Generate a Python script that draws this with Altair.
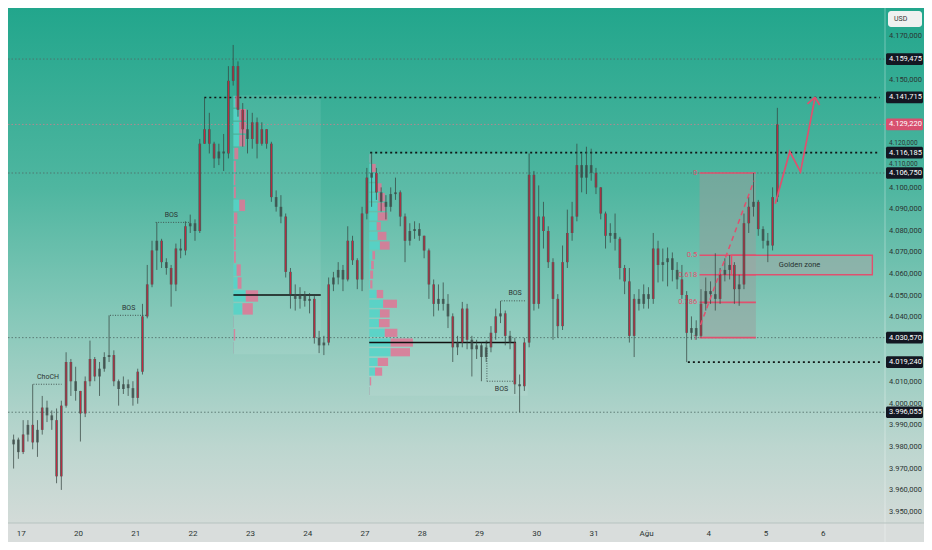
import altair as alt
import pandas as pd

# ---------------- candle data (2h bars, prices) ----------------
open0 = 3981.2
close = [3983.4, 3977.6, 3985.7, 3990.2, 3982.1, 3987.9, 3998.2, 3994.6, 3992.4, 3966.4,
         3999.1, 4019.3, 4010.4, 4005.9, 3995.5, 4010.4, 4020.7, 4012.6, 4016.2, 4021.6,
         4022.5, 4010.4, 4006.8, 4009.0, 4007.2, 4002.7, 4014.8, 4040.4, 4055.2, 4070.9,
         4075.4, 4065.5, 4062.8, 4055.2, 4071.8, 4070.9, 4082.1, 4083.5, 4079.9, 4120.3,
         4127.0, 4120.3, 4113.5, 4116.7, 4115.8, 4149.4, 4156.2, 4136.0, 4127.0, 4122.5,
         4130.2, 4120.3, 4127.0, 4120.3, 4095.6, 4091.1, 4086.6, 4061.0, 4050.7, 4048.5,
         4050.7, 4047.6, 4048.5, 4030.5, 4027.0, 4028.3, 4055.2, 4058.4, 4061.9, 4057.5,
         4075.4, 4066.4, 4057.5, 4088.0, 4104.6, 4106.8, 4097.8, 4093.4, 4091.1, 4097.0,
         4097.8, 4086.6, 4075.4, 4079.9, 4080.8, 4077.7, 4070.9, 4055.2, 4046.2, 4048.5,
         4046.2, 4040.4, 4026.1, 4028.3, 4044.0, 4029.6, 4025.2, 4027.0, 4021.6, 4026.1,
         4032.8, 4040.4, 4041.8, 4031.4, 4028.3, 4009.0, 4008.1, 4028.3, 4105.9, 4046.2,
         4086.6, 4079.9, 4065.5, 4048.5, 4035.9, 4065.5, 4079.0, 4086.6, 4110.4, 4104.6,
         4110.4, 4106.8, 4100.1, 4088.0, 4077.7, 4079.0, 4076.3, 4062.8, 4056.6, 4031.4,
         4048.5, 4046.2, 4050.7, 4048.5, 4071.8, 4064.2, 4065.5, 4067.3, 4061.9, 4057.5,
         4050.3, 4032.8, 4035.0, 4031.4, 4046.2, 4052.1, 4050.7, 4048.5, 4059.7, 4061.9,
         4064.2, 4053.0, 4055.2, 4083.5, 4091.1, 4093.4, 4080.8, 4075.4, 4073.2, 4095.6,
         4129.22]
high = [3985.7, 3984.3, 3992.4, 3992.4, 4009.0, 3992.4, 4003.6, 4001.4, 3996.9, 3997.8,
        4001.4, 4023.8, 4020.7, 4017.1, 4005.9, 4012.6, 4029.2, 4021.6, 4019.3, 4023.8,
        4040.9, 4024.7, 4011.2, 4012.6, 4011.2, 4010.4, 4016.2, 4046.2, 4064.2, 4075.4,
        4083.9, 4076.3, 4067.3, 4064.2, 4074.1, 4076.3, 4084.4, 4087.5, 4085.3, 4122.5,
        4141.715, 4134.6, 4121.2, 4120.3, 4124.8, 4156.2, 4166.0, 4158.4, 4139.1, 4136.0,
        4134.6, 4132.4, 4130.2, 4127.0, 4121.2, 4098.7, 4096.5, 4088.0, 4062.8, 4055.2,
        4053.9, 4052.1, 4051.2, 4049.8, 4033.7, 4031.4, 4058.4, 4061.0, 4065.5, 4064.2,
        4082.1, 4077.7, 4067.3, 4091.1, 4109.1, 4116.185, 4109.1, 4100.1, 4096.5, 4100.1,
        4104.6, 4098.7, 4088.0, 4083.5, 4084.4, 4083.5, 4077.7, 4071.8, 4057.5, 4055.2,
        4056.1, 4050.7, 4041.8, 4031.4, 4047.1, 4046.2, 4031.4, 4029.6, 4028.3, 4029.2,
        4035.9, 4044.0, 4047.6, 4043.1, 4033.7, 4030.5, 4013.5, 4030.5, 4115.8, 4107.7,
        4101.0, 4093.4, 4082.1, 4067.3, 4050.7, 4073.2, 4089.8, 4093.4, 4120.3, 4115.8,
        4118.9, 4118.0, 4109.1, 4100.1, 4088.9, 4083.5, 4088.0, 4077.2, 4064.2, 4062.8,
        4050.7, 4053.0, 4055.2, 4053.9, 4079.0, 4075.4, 4071.8, 4072.3, 4070.0, 4065.5,
        4064.2, 4052.1, 4040.4, 4038.6, 4053.0, 4058.4, 4056.6, 4069.6, 4062.8, 4067.3,
        4068.7, 4065.5, 4059.7, 4088.0, 4095.6, 4106.75, 4094.3, 4082.1, 4079.0, 4100.1,
        4136.9]
low = [3970.0, 3974.5, 3976.7, 3982.5, 3978.9, 3975.4, 3985.7, 3991.5, 3987.9, 3963.2,
       3960.1, 3998.2, 4003.6, 4001.4, 3982.5, 3993.8, 4008.1, 4010.4, 4003.6, 4014.8,
       4019.3, 4008.1, 3999.1, 4004.5, 4003.6, 3999.1, 4000.0, 4013.5, 4039.5, 4053.9,
       4061.9, 4062.8, 4059.7, 4044.9, 4052.1, 4067.3, 4068.7, 4079.0, 4075.4, 4079.0,
       4120.3, 4115.8, 4109.1, 4110.4, 4107.7, 4113.5, 4147.2, 4132.8, 4118.9, 4115.8,
       4118.0, 4113.5, 4119.4, 4118.0, 4093.4, 4088.9, 4083.5, 4058.4, 4044.0, 4043.1,
       4044.0, 4044.9, 4041.8, 4027.8, 4023.4, 4022.5, 4027.0, 4052.1, 4055.2, 4052.1,
       4056.6, 4064.2, 4053.0, 4052.1, 4085.3, 4091.1, 4094.3, 4088.9, 4085.3, 4088.9,
       4094.3, 4082.1, 4065.5, 4073.2, 4076.3, 4075.4, 4067.3, 4048.5, 4040.4, 4043.1,
       4043.1, 4035.0, 4019.3, 4022.5, 4026.1, 4025.2, 4012.6, 4020.7, 4010.4, 4019.3,
       4023.8, 4029.6, 4037.3, 4027.0, 4025.2, 4004.5, 3996.055, 4005.9, 4026.1, 4043.1,
       4044.0, 4071.8, 4062.8, 4029.6, 4030.5, 4034.1, 4062.8, 4075.4, 4084.4, 4097.8,
       4097.0, 4103.2, 4097.0, 4085.3, 4071.8, 4074.5, 4070.9, 4057.5, 4050.7, 4028.3,
       4021.6, 4043.1, 4044.0, 4044.0, 4046.2, 4056.1, 4056.6, 4054.3, 4056.6, 4053.0,
       4048.5, 4019.24, 4029.6, 4029.6, 4030.57, 4043.1, 4046.2, 4043.1, 4046.2, 4056.6,
       4057.5, 4046.2, 4045.3, 4053.0, 4079.0, 4086.6, 4077.7, 4071.8, 4065.5, 4070.9,
       4093.4]
N = len(close)
opens = [open0] + close[:-1]
hours = [2 * i - 3 for i in range(N)]          # trading hours since 17 Jul 00:00

# ---------------- axis ticks ----------------
day_vals = [0, 24, 48, 72, 96, 120, 144, 168, 192, 216, 240, 262, 288, 312, 336]
day_labels = ["17", "20", "21", "22", "23", "24", "27", "28", "29", "30", "31", "Ağu", "4", "5", "6"]
# price labels that are not hidden behind the price tags
price_ticks = [3950, 3960, 3970, 3980, 3990, 4000, 4010, 4040, 4050, 4060, 4070, 4080,
               4090, 4100, 4110, 4120, 4150, 4170]

# ---------------- levels ----------------
black_levels = [4141.715, 4116.185, 4019.24]
black_starts = [76.9, 146.4, 279.5]
grey_levels = [4159.475, 4106.75, 4030.57, 3996.055]
last_price = 4129.22
tag_prices = [4159.475, 4141.715, 4129.22, 4116.185, 4106.75, 4030.57, 4019.24, 3996.055]
tag_colors = ["#131722", "#131722", "#d8506f", "#131722", "#131722", "#131722", "#131722", "#131722"]

# ---------------- volume profiles ----------------
vp1_left, vp1_right, vp1_top, vp1_step = 89.1, 125.7, 4142.7, 5.99
vp1_cyan = [2, 6, 6, 6, 1, 0.5, 0.5, 0.5, 6, 0.5, 0.5, 0.5, 0.5, 3.3, 4.3, 12.7, 9.3, 0.3, 0.3, 0.3]
vp1_pink = [4, 7, 7, 6, 4, 2, 1.5, 2, 6, 3.5, 2, 2, 2, 4.3, 4.0, 12.7, 10.7, 0.3, 1.5, 0.3]
vp1_poc = 4050.3
vp2_left, vp2_right, vp2_top, vp2_step = 146.0, 212.4, 4115.8, 4.487
vp2_cyan = [0.5, 2.7, 6, 7.7, 9.3, 8.7, 8.7, 7.7, 8.7, 11, 3.3, 2, 1, 1, 7.7, 14.3, 11, 10, 16, 22, 22, 8.7, 6, 0.5, 0.3]
vp2_pink = [0.5, 4, 2.7, 5, 6.7, 8, 10, 4.3, 9, 10, 2.7, 2.7, 3, 2.3, 6.7, 14.3, 10, 11, 13, 23, 20, 10.7, 7.3, 1.5, 0.3]
vp2_poc, vp2_poc_end = 4028.3, 207.5
VOL = 0.4068  # hours per volume unit

# ---------------- fib / drawings ----------------
fib_h1, fib_h2 = 284.4, 308.0
fib_p0, fib_p1 = 4106.75, 4030.57
fib_ratios = [0, 0.5, 0.618, 0.786, 1]
fib_text = ["0", "0.5", "0.618", "0.786", "1"]
gz_h1, gz_h2 = 297.8, 356.8
trend_h = [284.8, 307.2]
trend_p = [4036.4, 4103.2]
arrow_h = [316.1, 322.2, 326.7, 332.8]
arrow_p = [4092.5, 4116.7, 4107.3, 4141.8]
wing_h = [329.6, 334.7]
wing_p = [4138.7, 4138.2]

notes_t = ["ChoCH", "BOS", "BOS", "BOS", "BOS"]
notes_h = [11.4, 45.2, 63.1, 207.1, 201.4]
notes_p = [4012.4, 4044.4, 4087.5, 4051.2, 4007.0]
bos_h1 = [5.3, 37.4, 56.5, 201.4, 195.3]
bos_h2 = [17.1, 52.5, 70.8, 211.5, 207.1]
bos_p = [4009.0, 4040.9, 4083.9, 4047.6, 4010.4]

# ---------------- chart setup ----------------
W, H = 877, 515
RP, BP = 39, 19
xs = alt.Scale(domain=[-3.25, 360], nice=False, zero=False)
ys = alt.Scale(domain=[3944.8, 4183.1], nice=False, zero=False)

xexpr = "".join(f"datum.value == {v} ? '{l}' : " for v, l in zip(day_vals, day_labels)) + "''"
xaxis = alt.Axis(values=day_vals, labelExpr=xexpr, grid=False, ticks=False, domain=False,
                 labelFontSize=8, labelColor="#2b3533", labelPadding=6, labelFont="Roboto",
                 title=None, labelFlush=False, labelOverlap=False)

def X(f):
    return alt.X(f, type="quantitative", scale=xs, axis=xaxis)

def Y(f):
    return alt.Y(f, type="quantitative", scale=ys, axis=None)

FONT = "Roboto"
TXT = "#2b3533"
PINK = "#e0506e"

one = pd.DataFrame({"a": [0]})

bg = alt.Chart(one).mark_rect(fill={
    "gradient": "linear", "x1": 0, "x2": 0, "y1": 0, "y2": 1,
    "stops": [{"offset": 0, "color": "#22a68c"}, {"offset": 0.35, "color": "#4fb6a0"},
              {"offset": 0.6, "color": "#86c8b9"}, {"offset": 0.85, "color": "#bcd6cf"},
              {"offset": 1, "color": "#d3dbd8"}]}).encode(
    x=alt.value(0), x2=alt.value(W + RP), y=alt.value(0), y2=alt.value(H))

def fmt(v):
    s = f"{v:,.3f}"
    return s.replace(",", "#").replace(".", ",").replace("#", ".")

# y labels as text on the right; the two squeezed between tags are nudged
ydf = pd.DataFrame({"p": price_ticks, "t": [fmt(v) for v in price_ticks]})
ylab = alt.Chart(ydf).transform_filter("datum.p != 4110 && datum.p != 4120").mark_text(
    align="left", baseline="middle", fontSize=7.5, font=FONT, color=TXT).encode(
    x=alt.value(W + 4), y=Y("p"), text="t:N")
ylab_sq = alt.Chart(ydf).transform_filter("datum.p == 4110 || datum.p == 4120").mark_text(
    align="left", baseline="middle", fontSize=6.5, font=FONT, color=TXT, dy=-1.5).encode(
    x=alt.value(W + 4), y=Y("p"), text="t:N")

# volume profile regions
vpreg = alt.Chart(pd.DataFrame({
    "h1": [vp1_left, vp2_left], "h2": [vp1_right, vp2_right],
    "p1": [vp1_top, vp2_top],
    "p2": [vp1_top - len(vp1_cyan) * vp1_step, vp2_top - len(vp2_cyan) * vp2_step]})).mark_rect(
    fill="white", opacity=0.08).encode(x=X("h1"), x2=alt.X2("h2"), y=Y("p1"), y2=alt.Y2("p2"))

# level lines
lvl_black = alt.Chart(pd.DataFrame({"p": black_levels, "h": black_starts, "e": [360] * 3})).mark_rule(
    color="#101515", strokeWidth=1.6, strokeDash=[2, 3]).encode(x=X("h"), x2=alt.X2("e"), y=Y("p"))
lvl_grey = alt.Chart(pd.DataFrame({"p": grey_levels})).mark_rule(
    color="#4d6a64", strokeWidth=1, strokeDash=[1.5, 2], opacity=0.8).encode(
    x=alt.value(0), x2=alt.value(W), y=Y("p"))
lvl_last = alt.Chart(pd.DataFrame({"p": [last_price]})).mark_rule(
    color="#c9808f", strokeWidth=1, strokeDash=[1.5, 2], opacity=0.8).encode(
    x=alt.value(0), x2=alt.value(W), y=Y("p"))

# volume profile bars
rows = []
for left, top, step, cy, pk in [(vp1_left, vp1_top, vp1_step, vp1_cyan, vp1_pink),
                                (vp2_left, vp2_top, vp2_step, vp2_cyan, vp2_pink)]:
    for k, (c, p) in enumerate(zip(cy, pk)):
        t = top - k * step
        rows.append({"pt": t - 0.35, "pb": t - step + 0.35, "x0": left,
                     "x1": left + c * VOL, "x2": left + (c + p) * VOL})
vpdf = pd.DataFrame(rows)
vp_c = alt.Chart(vpdf).mark_rect(fill="#52d3c8", opacity=0.85).encode(
    x=X("x0"), x2=alt.X2("x1"), y=Y("pt"), y2=alt.Y2("pb"))
vp_p = alt.Chart(vpdf).mark_rect(fill="#e07595", opacity=0.85).encode(
    x=X("x1"), x2=alt.X2("x2"), y=Y("pt"), y2=alt.Y2("pb"))
poc = alt.Chart(pd.DataFrame({"p": [vp1_poc, vp2_poc], "h1": [vp1_left, vp2_left],
                              "h2": [vp1_right, vp2_poc_end]})).mark_rule(
    color="#111", strokeWidth=1.5).encode(x=X("h1"), x2=alt.X2("h2"), y=Y("p"))

# fib
fib_rect = alt.Chart(pd.DataFrame({"h1": [fib_h1], "h2": [fib_h2], "p1": [fib_p0], "p2": [fib_p1]})).mark_rect(
    fill="#9a9d9c", opacity=0.5).encode(x=X("h1"), x2=alt.X2("h2"), y=Y("p1"), y2=alt.Y2("p2"))
fibdf = pd.DataFrame({"p": [fib_p0 - r * (fib_p0 - fib_p1) for r in fib_ratios], "t": fib_text,
                      "h1": [fib_h1] * 5, "h2": [fib_h2] * 5, "hl": [fib_h1 - 1.0] * 5})
fib_lines = alt.Chart(fibdf).mark_rule(color=PINK, strokeWidth=1.6).encode(
    x=X("h1"), x2=alt.X2("h2"), y=Y("p"))
fib_lab = alt.Chart(fibdf).mark_text(align="right", baseline="middle", fontSize=7.5, font=FONT,
                                     color=PINK).encode(x=X("hl"), y=Y("p"), text="t:N")
gz_p1 = fib_p0 - 0.5 * (fib_p0 - fib_p1)
gz_p2 = fib_p0 - 0.618 * (fib_p0 - fib_p1)
gz = alt.Chart(pd.DataFrame({"h1": [gz_h1], "h2": [gz_h2], "p1": [gz_p1], "p2": [gz_p2]})).mark_rect(
    fill="#a3a7a5", fillOpacity=0.55, stroke=PINK, strokeWidth=1.4).encode(
    x=X("h1"), x2=alt.X2("h2"), y=Y("p1"), y2=alt.Y2("p2"))
gz_txt = alt.Chart(pd.DataFrame({"h": [(gz_h1 + gz_h2) / 2 - 1], "p": [(gz_p1 + gz_p2) / 2], "t": ["Golden zone"]})).mark_text(
    fontSize=7.5, font=FONT, color="#263230", baseline="middle").encode(x=X("h"), y=Y("p"), text="t:N")
trend = alt.Chart(pd.DataFrame({"h1": [trend_h[0]], "h2": [trend_h[1]], "p1": [trend_p[0]], "p2": [trend_p[1]]})).mark_rule(
    color=PINK, strokeWidth=1.5, strokeDash=[5, 4]).encode(
    x=X("h1"), x2=alt.X2("h2"), y=Y("p1"), y2=alt.Y2("p2"))

# candles
cdf = pd.DataFrame({"h": hours, "o": opens, "c": close, "hi": high, "lo": low})
base = alt.Chart(cdf).transform_calculate(
    bt="max(datum.o, datum.c)",
    bb="min(datum.o, datum.c, max(datum.o, datum.c) - 0.6)")
wick = base.mark_rule(color="#34423f", strokeWidth=1, opacity=0.72).encode(
    x=X("h"), y=Y("lo"), y2=alt.Y2("hi"))
body = base.mark_bar(size=2.7, color="#3a4845", opacity=0.74).encode(
    x=X("h"), y=Y("bt"), y2=alt.Y2("bb"))
redline = base.transform_filter("abs(datum.c - datum.o) >= 6").mark_rule(
    color="#c8283f", strokeWidth=1).encode(x=X("h"), y=Y("o"), y2=alt.Y2("c"))

# notes
notes = alt.Chart(pd.DataFrame({"h": notes_h, "p": notes_p, "t": notes_t})).mark_text(
    fontSize=7, font=FONT, color=TXT, baseline="middle").encode(x=X("h"), y=Y("p"), text="t:N")
bos = alt.Chart(pd.DataFrame({"h1": bos_h1, "h2": bos_h2, "p": bos_p})).mark_rule(
    color="#3c4b48", strokeWidth=0.9, strokeDash=[1, 1.5]).encode(x=X("h1"), x2=alt.X2("h2"), y=Y("p"))
bos_v = alt.Chart(pd.DataFrame({"h": [195.3], "p1": [4029.2], "p2": [4010.4]})).mark_rule(
    color="#3c4b48", strokeWidth=0.9, strokeDash=[1, 1.5]).encode(x=X("h"), y=Y("p1"), y2=alt.Y2("p2"))

# arrow
arrow = alt.Chart(pd.DataFrame({"i": list(range(len(arrow_h))), "h": arrow_h, "p": arrow_p})).mark_line(
    color=PINK, strokeWidth=1.7).encode(x=X("h"), y=Y("p"), order="i:Q")
wings = alt.Chart(pd.DataFrame({"h1": [arrow_h[-1]] * 2, "p1": [arrow_p[-1]] * 2, "h2": wing_h, "p2": wing_p})).mark_rule(
    color=PINK, strokeWidth=1.7).encode(x=X("h1"), x2=alt.X2("h2"), y=Y("p1"), y2=alt.Y2("p2"))

# price tags
tdf = pd.DataFrame({"p": tag_prices, "t": [fmt(v) for v in tag_prices], "col": tag_colors})
tdf["pt"] = tdf["p"] + 2.7
tdf["pb"] = tdf["p"] - 2.7
tag_r = alt.Chart(tdf).mark_rect(cornerRadius=1.5).encode(
    x=alt.value(W + 1), x2=alt.value(W + 38), y=Y("pt"), y2=alt.Y2("pb"),
    color=alt.Color("col:N", scale=None, legend=None))
tag_t = alt.Chart(tdf).mark_text(align="left", baseline="middle", fontSize=7.5, font=FONT,
                                 color="white").encode(x=alt.value(W + 4), y=Y("p"), text="t:N")

usd_r = alt.Chart(one).mark_rect(fill="#eef1f0", cornerRadius=3).encode(
    x=alt.value(W + 3), x2=alt.value(W + 37), y=alt.value(3), y2=alt.value(19))
usd_t = alt.Chart(pd.DataFrame({"t": ["USD"]})).mark_text(
    align="left", baseline="middle", fontSize=7, font=FONT, color="#333").encode(
    x=alt.value(W + 9), y=alt.value(11), text="t:N")

sep_v = alt.Chart(one).mark_rule(color="#ffffff", opacity=0.35, strokeWidth=1).encode(
    x=alt.value(W), y=alt.value(0), y2=alt.value(H + BP))
sep_h = alt.Chart(one).mark_rule(color="#b7c3c0", strokeWidth=1).encode(
    x=alt.value(0), x2=alt.value(W + RP), y=alt.value(H))

chart = alt.layer(
    bg, ylab, ylab_sq, vpreg, lvl_grey, lvl_last, lvl_black, vp_c, vp_p, poc,
    fib_rect, fib_lines, fib_lab, gz, gz_txt,
    bos, bos_v, notes,
    wick, body, redline, trend, arrow, wings,
    tag_r, tag_t, usd_r, usd_t, sep_v, sep_h
).properties(
    width=W, height=H,
    autosize=alt.AutoSizeParams(type="none"),
    padding={"left": 0, "top": 0, "right": RP, "bottom": BP},
).configure(background="#d9dddc").configure_view(stroke=None)

chart.save("out.html", embed_options={"renderer": "svg", "actions": False})
